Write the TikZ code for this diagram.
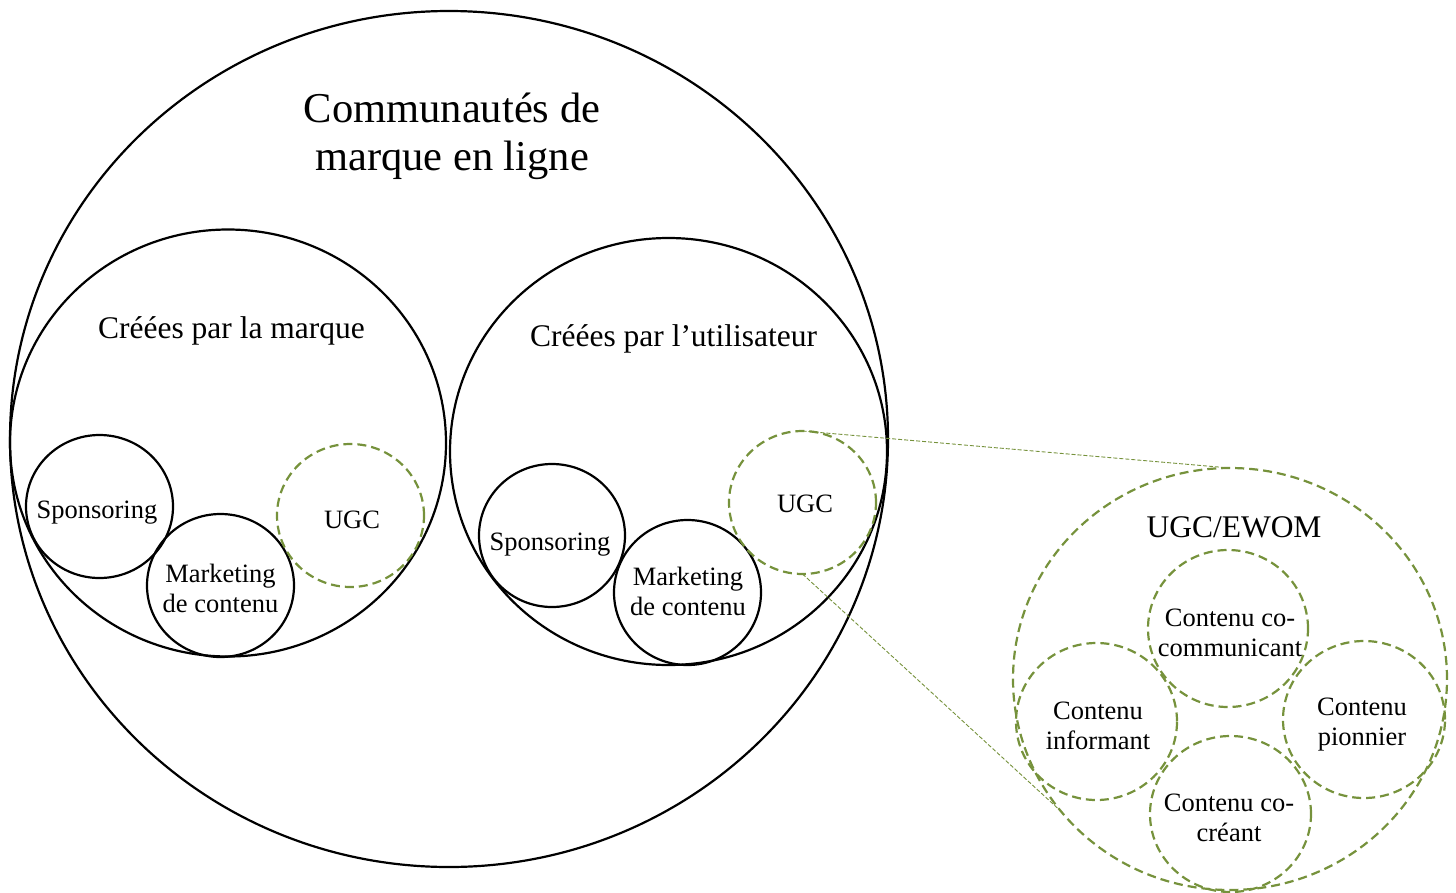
\documentclass[tikz,border=0pt]{standalone}
\usepackage{fontspec}
\setmainfont{Liberation Serif}
\usetikzlibrary{shapes.geometric}
\definecolor{olivegreen}{HTML}{76923C}
\begin{document}
\begin{tikzpicture}[x=1pt,y=-1pt,
  ring/.style={ellipse, draw=black, line width=2.2pt, inner sep=0pt, outer sep=0pt},
  gring/.style={ellipse, draw=olivegreen, line width=2.2pt, dash pattern=on 9pt off 5pt, inner sep=0pt, outer sep=0pt},
  txt/.style={align=center, inner sep=0pt, font=\fontsize{26.5}{30}\selectfont},
  midtxt/.style={align=center, inner sep=0pt, font=\fontsize{31.5}{36}\selectfont},
  bigtxt/.style={align=center, inner sep=0pt, font=\fontsize{42.5}{48}\selectfont},
  link/.style={draw=olivegreen, line width=0.9pt, dash pattern=on 4pt off 2pt}]
\useasboundingbox (0,0) rectangle (1456,892);
% outer ring
\node[ring, minimum width=878pt, minimum height=856pt] (outer) at (449,439) {};
\node[bigtxt] (title) at (452,136) {Communautés de\\marque en ligne};
% brand-created
\node[ring, minimum width=436pt, minimum height=427pt] (brand) at (228,443) {};
\node[midtxt] (brandt) at (231.5,330.5) {Créées par la marque};
% user-created
\node[ring, minimum width=437pt, minimum height=427pt] (user) at (668.5,451.5) {};
\node[midtxt] (usert) at (673.5,338.5) {Créées par l’utilisateur};
% small rings, brand
\node[ring, minimum width=147pt, minimum height=143pt] (spons1) at (99.5,506.5) {};
\node[ring, minimum width=147pt, minimum height=143pt] (mark1) at (220.5,585.5) {};
\node[gring, minimum width=147pt, minimum height=143pt] (ugc1) at (350.5,515.5) {};
\node[txt] (spons1t) at (97,512.5) {Sponsoring};
\node[txt] (mark1t) at (220.5,588) {Marketing\\de contenu};
\node[txt] (ugc1t) at (352,520) {UGC};
% small rings, user
\node[ring, minimum width=146pt, minimum height=143pt] (spons2) at (552,535.5) {};
\node[ring, minimum width=147pt, minimum height=145pt] (mark2) at (687.5,592.5) {};
\node[gring, minimum width=147pt, minimum height=143pt] (ugc2) at (802.5,502.5) {};
\node[txt] (spons2t) at (550,544.5) {Sponsoring};
\node[txt] (mark2t) at (688,591) {Marketing\\de contenu};
\node[txt] (ugc2t) at (805,504) {UGC};
% UGC/EWOM detail
\node[gring, minimum width=434pt, minimum height=422pt] (ewom) at (1230,679) {};
\node[midtxt] (ewomt) at (1234,527) {UGC/EWOM};
\node[gring, minimum width=160pt, minimum height=157pt] (cocom) at (1228,628.5) {};
\node[gring, minimum width=161pt, minimum height=157pt] (inform) at (1096.5,721.5) {};
\node[gring, minimum width=162pt, minimum height=157pt] (pion) at (1364,719.5) {};
\node[gring, minimum width=161pt, minimum height=156pt] (cocre) at (1230.5,814) {};
\node[txt] (cocomt) at (1230,633) {Contenu co-\\communicant};
\node[txt] (informt) at (1098,726) {Contenu\\informant};
\node[txt] (piont) at (1362,725) {Contenu\\pionnier};
\node[txt] (cocret) at (1229,818) {Contenu co-\\créant};
% connectors
\draw[link] (ugc2.north) -- (ewom.north);
\draw[link] (ugc2.south) -- (ewom.218.7);
\end{tikzpicture}
\end{document}
